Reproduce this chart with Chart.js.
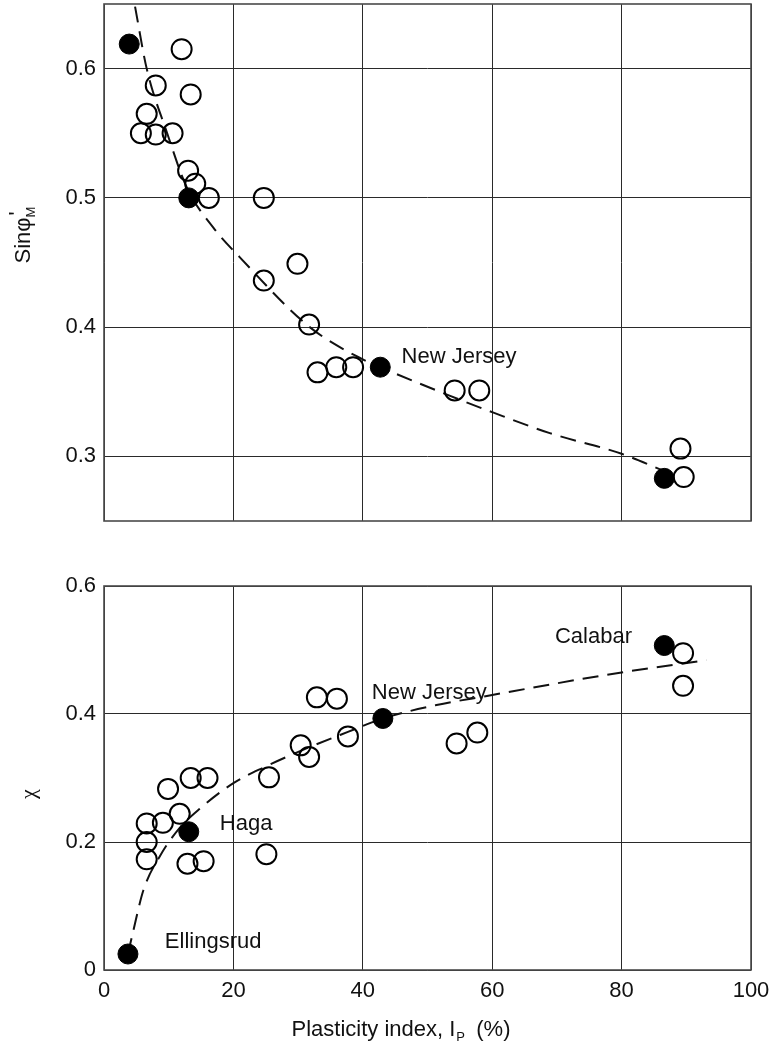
<!DOCTYPE html>
<html>
<head>
<meta charset="utf-8">
<script src="https://cdn.jsdelivr.net/npm/chart.js@4.4.1/dist/chart.umd.min.js"></script>
<style>
  html, body { margin: 0; padding: 0; background: #fff; }
  #wrap { position: relative; width: 771px; height: 1048px; }
  canvas { position: absolute; left: 0; }
</style>
</head>
<body>
<div id="wrap">
  <canvas id="sinChart" width="771" height="545" style="top:0"></canvas>
  <canvas id="chiChart" width="771" height="488" style="top:560px"></canvas>
</div>
<script>
// Axis ticks
const plasticityTicks = [0, 20, 40, 60, 80, 100];
const sinTicks = [0.3, 0.4, 0.5, 0.6];
const chiTicks = [0, 0.2, 0.4, 0.6];

// sin φ'M against plasticity index — open symbols
const sinOpenIp  = [12.0, 8.0, 13.4, 6.6, 5.7, 8.0, 10.6, 13.0, 14.1, 16.2, 24.7, 24.7, 29.9, 31.7, 33.0, 35.9, 38.5, 54.2, 58.0, 89.1, 89.6];
const sinOpenVal = [0.615, 0.587, 0.580, 0.565, 0.550, 0.549, 0.550, 0.521, 0.511, 0.500, 0.500, 0.436, 0.449, 0.402, 0.365, 0.369, 0.369, 0.351, 0.351, 0.306, 0.284];
// named sites (solid symbols)
const sinSolidIp  = [3.9, 13.1, 42.7, 86.6];
const sinSolidVal = [0.619, 0.500, 0.369, 0.283];
// fitted trend (dashed)
const sinTrendIp  = [4.8, 6.6, 9.7, 12.8, 16.9, 21.0, 31.8, 40.0, 42.7, 53.4, 60.1, 68.9, 80.0, 86.4];
const sinTrendVal = [0.648, 0.600, 0.551, 0.508, 0.477, 0.454, 0.400, 0.375, 0.369, 0.347, 0.334, 0.318, 0.302, 0.289];

// χ against plasticity index — open symbols
const chiOpenIp  = [9.9, 13.4, 16.0, 6.6, 9.1, 11.7, 6.6, 6.6, 12.9, 15.4, 25.1, 25.5, 30.4, 31.7, 32.9, 36.0, 37.7, 54.5, 57.7, 89.5, 89.5];
const chiOpenVal = [0.283, 0.300, 0.300, 0.229, 0.230, 0.244, 0.200, 0.173, 0.166, 0.170, 0.181, 0.301, 0.351, 0.333, 0.426, 0.424, 0.365, 0.354, 0.371, 0.495, 0.444];
const chiSolidIp  = [3.7, 13.1, 43.1, 86.6];
const chiSolidVal = [0.025, 0.216, 0.393, 0.507];
const chiTrendIp  = [3.7, 4.5, 6.1, 8.7, 11.7, 14.8, 20.0, 25.0, 30.3, 37.7, 43.1, 51.4, 59.6, 74.0, 80.0, 93.1];
const chiTrendVal = [0.025, 0.060, 0.125, 0.179, 0.222, 0.252, 0.292, 0.318, 0.342, 0.372, 0.393, 0.414, 0.429, 0.455, 0.465, 0.484];

// Site names
const sinSiteNames = ['New Jersey'];
const sinSiteIp    = [46.0];
const sinSiteVal   = [0.377];
const chiSiteNames = ['Calabar', 'New Jersey', 'Haga', 'Ellingsrud'];
const chiSiteIp    = [69.7, 41.4, 17.9, 9.4];
const chiSiteVal   = [0.521, 0.433, 0.229, 0.044];

const FONT = "'Liberation Sans', Arial, Helvetica, sans-serif";
const FS = 22;
const INK = '#111';

const pts = (xs, ys) => xs.map((x, i) => ({ x, y: ys[i] }));

// Outer frame around the plotting area
const framePlugin = {
  id: 'frame',
  afterDraw(chart) {
    const a = chart.chartArea, ctx = chart.ctx;
    ctx.save();
    ctx.strokeStyle = '#4a4a4a';
    ctx.lineWidth = 1.6;
    ctx.strokeRect(a.left, a.top, a.right - a.left, a.bottom - a.top);
    ctx.restore();
  }
};

// Site name annotations in data coordinates
const siteLabelPlugin = {
  id: 'siteLabels',
  afterDatasetsDraw(chart, args, opts) {
    const ctx = chart.ctx, xs = chart.scales.x, ys = chart.scales.y;
    ctx.save();
    ctx.font = FS + 'px ' + FONT;
    ctx.fillStyle = INK;
    ctx.textAlign = 'left';
    ctx.textBaseline = 'middle';
    opts.names.forEach((t, i) => {
      ctx.fillText(t, xs.getPixelForValue(opts.ip[i]), ys.getPixelForValue(opts.val[i]));
    });
    ctx.restore();
  }
};

// Axis titles with sub/superscripts
const titlePlugin = {
  id: 'axisTitles',
  afterDraw(chart, args, opts) {
    if (opts.draw) opts.draw(chart.ctx, chart.chartArea);
  }
};

function baseScales(yTicks, yMin, yMax, showX) {
  return {
    x: {
      type: 'linear', min: 0, max: 100,
      afterBuildTicks: s => { s.ticks = plasticityTicks.map(v => ({ value: v })); },
      afterFit: s => { s.height = showX ? 78 : 24; s.paddingLeft = 0; s.paddingRight = 0; },
      grid: { color: '#2a2a2a', lineWidth: 1, drawTicks: false },
      border: { display: false },
      ticks: { display: showX, padding: 8, color: INK, font: { family: FONT, size: FS } }
    },
    y: {
      type: 'linear', min: yMin, max: yMax,
      afterBuildTicks: s => { s.ticks = yTicks.map(v => ({ value: v })); },
      afterFit: s => { s.width = 104; s.paddingTop = 0; s.paddingBottom = 0; },
      grid: { color: '#2a2a2a', lineWidth: 1, drawTicks: false },
      border: { display: false },
      ticks: {
        padding: 8, color: INK, font: { family: FONT, size: FS },
        callback: v => (v === 0 ? '0' : Number(v).toFixed(1))
      }
    }
  };
}

function datasets(openX, openY, solidX, solidY, trendX, trendY) {
  return [
    {
      type: 'line', data: pts(trendX, trendY),
      borderColor: '#111', borderWidth: 2, borderDash: [16, 9],
      pointRadius: 0, fill: false, cubicInterpolationMode: 'monotone', order: 3
    },
    {
      type: 'scatter', data: pts(openX, openY),
      pointRadius: 10, pointBorderWidth: 2,
      pointBorderColor: '#000', pointBackgroundColor: 'rgba(0,0,0,0)', order: 2
    },
    {
      type: 'scatter', data: pts(solidX, solidY),
      pointRadius: 10, pointBorderWidth: 1,
      pointBorderColor: '#000', pointBackgroundColor: '#000', order: 1
    }
  ];
}

const common = {
  responsive: false,
  devicePixelRatio: 1,
  animation: false,
  events: [],
};

new Chart(document.getElementById('sinChart'), {
  type: 'scatter',
  data: { datasets: datasets(sinOpenIp, sinOpenVal, sinSolidIp, sinSolidVal, sinTrendIp, sinTrendVal) },
  options: Object.assign({}, common, {
    layout: { autoPadding: false, padding: { top: 4, right: 20, left: 0, bottom: 0 } },
    scales: baseScales(sinTicks, 0.25, 0.65, false),
    plugins: {
      legend: { display: false }, tooltip: { enabled: false },
      siteLabels: { names: sinSiteNames, ip: sinSiteIp, val: sinSiteVal },
      axisTitles: {
        draw(ctx, a) {
          ctx.save();
          ctx.fillStyle = INK;
          ctx.translate(a.left - 74, a.top + 231);
          ctx.rotate(-Math.PI / 2);
          ctx.font = FS + 'px ' + FONT;
          const main = 'Sinφ';
          const w1 = ctx.measureText(main).width;
          ctx.font = '13px ' + FONT;
          const wM = ctx.measureText('M').width;
          const x0 = -(w1 + wM) / 2;
          ctx.textBaseline = 'alphabetic';
          ctx.font = FS + 'px ' + FONT;
          ctx.fillText(main, x0, 0);
          ctx.font = '13px ' + FONT;
          ctx.fillText('M', x0 + w1, 5);
          ctx.font = FS + 'px ' + FONT;
          ctx.fillText('\'', x0 + w1 + 2, -6);
          ctx.restore();
        }
      }
    }
  }),
  plugins: [framePlugin, siteLabelPlugin, titlePlugin]
});

new Chart(document.getElementById('chiChart'), {
  type: 'scatter',
  data: { datasets: datasets(chiOpenIp, chiOpenVal, chiSolidIp, chiSolidVal, chiTrendIp, chiTrendVal) },
  options: Object.assign({}, common, {
    layout: { autoPadding: false, padding: { top: 26, right: 20, left: 0, bottom: 0 } },
    scales: baseScales(chiTicks, 0, 0.6, true),
    plugins: {
      legend: { display: false }, tooltip: { enabled: false },
      siteLabels: { names: chiSiteNames, ip: chiSiteIp, val: chiSiteVal },
      axisTitles: {
        draw(ctx, a) {
          ctx.save();
          ctx.fillStyle = INK;
          // y title: χ
          ctx.save();
          ctx.translate(a.left - 75, a.top + 208);
          ctx.rotate(-Math.PI / 2);
          ctx.font = '22px "Liberation Serif", "DejaVu Serif", serif';
          ctx.textAlign = 'center';
          ctx.textBaseline = 'middle';
          ctx.fillText('χ', 0, 0);
          ctx.restore();
          // x title: Plasticity index, I_P (%)
          const big = FS + 'px ' + FONT, small = '13px ' + FONT;
          const s1 = 'Plasticity index, I', s2 = 'P', s3 = '  (%)';
          ctx.font = big; const w1 = ctx.measureText(s1).width, w3 = ctx.measureText(s3).width;
          ctx.font = small; const w2 = ctx.measureText(s2).width;
          const total = w1 + w2 + w3;
          let x = 401 - total / 2;
          const base = a.bottom + 66;
          ctx.textBaseline = 'alphabetic';
          ctx.font = big; ctx.fillText(s1, x, base); x += w1;
          ctx.font = small; ctx.fillText(s2, x + 1, base + 5); x += w2;
          ctx.font = big; ctx.fillText(s3, x, base);
          ctx.restore();
        }
      }
    }
  }),
  plugins: [framePlugin, siteLabelPlugin, titlePlugin]
});
</script>
</body>
</html>
